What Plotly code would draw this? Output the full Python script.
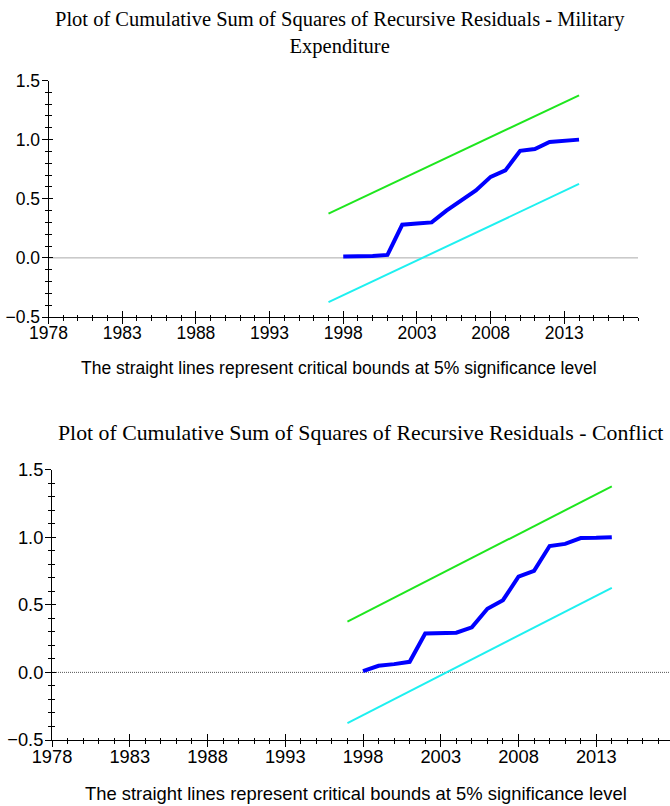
import plotly.graph_objects as go

# Recursive-residual CUSUM of squares, one panel per model
years = list(range(1998, 2015))

milex_cusumsq = [0.011, 0.012, 0.015, 0.025, 0.28, 0.29, 0.30, 0.40, 0.49,
                 0.57, 0.685, 0.74, 0.905, 0.92, 0.98, 0.994, 1.0]
conflict_cusumsq = [0.01, 0.049, 0.061, 0.078, 0.288, 0.293, 0.293, 0.333, 0.47,
                    0.534, 0.707, 0.751, 0.934, 0.95, 0.993, 0.995, 1.0]

# 5% critical bounds (straight lines between the first and last period)
bound_years = [1997, 2014]
upper_bound = [0.375, 1.375]
lower_bound = [-0.375, 0.625]

# horizontal reference at zero
ref_years = [1978, 2018]
ref_values = [0.0, 0.0]

# labelled years on the time axis
year_ticks = [1978, 1983, 1988, 1993, 1998, 2003, 2008, 2013]

titles = [
    "Plot of Cumulative Sum of Squares of Recursive Residuals - Military<br>Expenditure",
    "Plot of Cumulative Sum of Squares of Recursive Residuals - Conflict",
]
footer = "The straight lines represent critical bounds at 5% significance level"

W, H = 670, 806
SERIF = "Liberation Serif, Times New Roman, serif"
SANS = "Liberation Sans, Arial, sans-serif"


def px_x(p):
    return p / W


def px_y(p):
    return 1 - p / H


panels = [
    dict(series=milex_cusumsq, xdom=[px_x(48.5), px_x(638)], ydom=[px_y(317), px_y(80.5)],
         xrange=[1978, 2018], tick_size=17.5, foot_size=17.5),
    dict(series=conflict_cusumsq, xdom=[px_x(52), 1.0], ydom=[px_y(740), px_y(469.5)],
         xrange=[1978, 1978 + (670 - 52) / 15.55], tick_size=18.3, foot_size=18.4),
]

fig = go.Figure()
layout = dict(width=W, height=H, margin=dict(l=0, r=0, t=0, b=0, pad=0, autoexpand=False),
              paper_bgcolor="white", plot_bgcolor="white", showlegend=False)

for i, p in enumerate(panels):
    n = i + 1
    xa, ya = ("x" if n == 1 else f"x{n}"), ("y" if n == 1 else f"y{n}")
    # overlay axes carry the inward half of the crossing tick marks
    ox, oy = f"x{n + 2}", f"y{n + 2}"

    fig.add_trace(go.Scatter(x=ref_years, y=ref_values, mode="lines", xaxis=xa, yaxis=ya,
                             line=dict(color="#555555", width=1, dash="1px,1px"),
                             hoverinfo="skip"))
    fig.add_trace(go.Scatter(x=bound_years, y=upper_bound, mode="lines", xaxis=xa, yaxis=ya,
                             line=dict(color="#1ee61e", width=2)))
    fig.add_trace(go.Scatter(x=bound_years, y=lower_bound, mode="lines", xaxis=xa, yaxis=ya,
                             line=dict(color="#1ef0f0", width=2)))
    fig.add_trace(go.Scatter(x=years, y=p["series"], mode="lines", xaxis=xa, yaxis=ya,
                             line=dict(color="#0000ff", width=4)))

    tickfont = dict(family=SANS, size=p["tick_size"], color="black")
    common_x = dict(domain=p["xdom"], range=p["xrange"], showgrid=False, zeroline=False,
                    tickmode="array", tickvals=year_ticks, tickcolor="black", tickwidth=1,
                    automargin=False)
    common_y = dict(domain=p["ydom"], range=[-0.5, 1.5], showgrid=False, zeroline=False,
                    tick0=0, dtick=0.5, tickcolor="black", tickwidth=1, automargin=False)

    layout["xaxis" if n == 1 else f"xaxis{n}"] = dict(
        common_x, anchor=ya, showline=True, linecolor="black", linewidth=1,
        ticks="outside", ticklen=6, tickfont=tickfont, ticklabelstandoff=-6,
        minor=dict(tick0=1978, dtick=1, ticks="outside", ticklen=3,
                   tickcolor="black", tickwidth=1))
    layout["yaxis" if n == 1 else f"yaxis{n}"] = dict(
        common_y, anchor=xa, showline=True, linecolor="black", linewidth=1,
        ticks="outside", ticklen=6, tickformat=".1f", tickfont=tickfont,
        ticklabelstandoff=-2,
        minor=dict(tick0=0, dtick=0.1, ticks="outside", ticklen=3,
                   tickcolor="black", tickwidth=1))
    layout[f"xaxis{n + 2}"] = dict(
        common_x, anchor=ya, overlaying=xa, showline=False, showticklabels=False,
        ticks="inside", ticklen=6,
        minor=dict(tick0=1978, dtick=1, ticks="inside", ticklen=2,
                   tickcolor="black", tickwidth=1))
    layout[f"yaxis{n + 2}"] = dict(
        common_y, anchor=xa, overlaying=ya, showline=False, showticklabels=False,
        ticks="inside", ticklen=4,
        minor=dict(tick0=0, dtick=0.1, ticks="inside", ticklen=3,
                   tickcolor="black", tickwidth=1))
    # empty traces so the overlay axes are laid out
    fig.add_trace(go.Scatter(x=[None], y=[None], xaxis=ox, yaxis=oy, hoverinfo="skip"))

annotations = [
    dict(text=titles[0], x=px_x(340), y=px_y(33), xref="paper", yref="paper",
         showarrow=False, font=dict(family=SERIF, size=20.5, color="black"),
         xanchor="center", yanchor="middle"),
    dict(text=titles[1], x=px_x(360), y=px_y(433), xref="paper", yref="paper",
         showarrow=False, font=dict(family=SERIF, size=21.8, color="black"),
         xanchor="center", yanchor="middle"),
    dict(text=footer, x=px_x(339), y=px_y(368), xref="paper", yref="paper",
         showarrow=False, font=dict(family=SANS, size=panels[0]["foot_size"], color="black"),
         xanchor="center", yanchor="middle"),
    dict(text=footer, x=px_x(356), y=px_y(793), xref="paper", yref="paper",
         showarrow=False, font=dict(family=SANS, size=panels[1]["foot_size"], color="black"),
         xanchor="center", yanchor="middle"),
]
layout["annotations"] = annotations

fig.update_layout(**layout)
fig.write_html("out.html")
